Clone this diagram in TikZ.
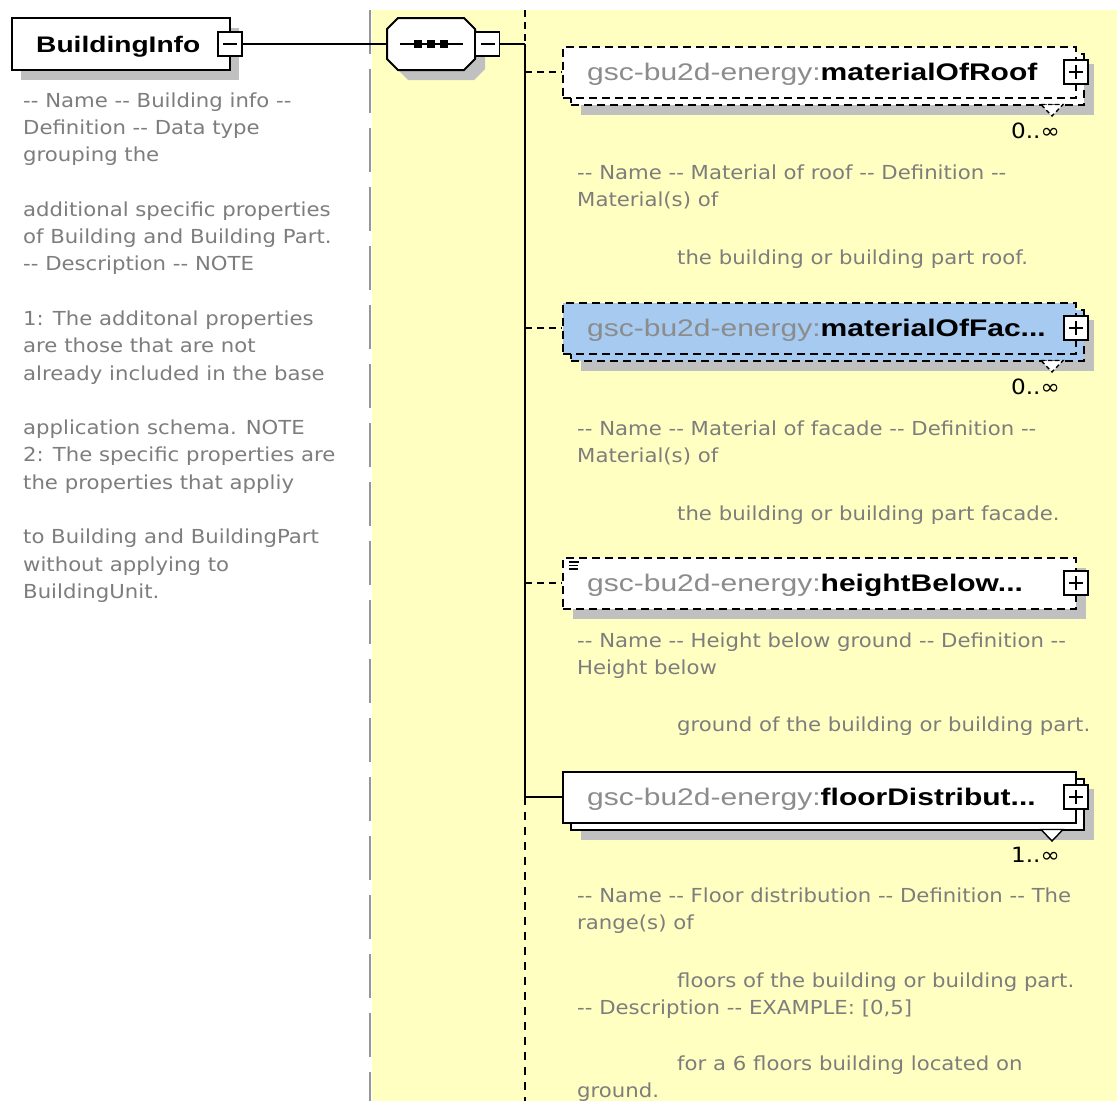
\documentclass[tikz,border=0pt]{standalone}
\usepackage{fontspec}
\setmainfont{DejaVu Sans}
\newfontfamily\descfont[FakeStretch=1.1]{DejaVu Sans}
\newfontfamily\lblfont[FakeStretch=1.25]{Liberation Sans}
\definecolor{bgyellow}{RGB}{255,255,194}
\definecolor{selblue}{RGB}{166,202,240}
\definecolor{shadowgray}{RGB}{192,192,192}
\definecolor{descgray}{RGB}{125,125,125}
\definecolor{nsgray}{RGB}{140,140,140}
\definecolor{guidegray}{RGB}{150,150,150}
\begin{document}
\begin{tikzpicture}[x=1pt,y=-1pt,
  conn/.style={line width=2pt, black},
  dconn/.style={conn, dash pattern=on 7pt off 5pt},
  vdconn/.style={conn, dash pattern=on 8pt off 7pt},
  elbox/.style={draw, line width=2pt, fill=white, minimum width=513pt, minimum height=51pt, inner sep=0pt},
  delbox/.style={elbox, dash pattern=on 8pt off 5pt},
  shadowbox/.style={fill=shadowgray, draw=none, minimum width=513pt, minimum height=51pt, inner sep=0pt},
  btn/.style={draw, line width=1.5pt, fill=white, minimum size=24pt, inner sep=0pt},
  desc/.style={font=\descfont\fontsize{19.3pt}{19.3pt}\selectfont, text=descgray, anchor=west, inner sep=0pt, text height=14pt, text depth=0pt},
  lbl/.style={font=\lblfont\fontsize{24pt}{24pt}\selectfont, anchor=west, inner sep=0pt, text height=17pt, text depth=0pt},
  mult/.style={font=\descfont\fontsize{21pt}{21pt}\selectfont, text=black, anchor=east, inner sep=0pt, text height=15pt, text depth=0pt},
  multtri/.style={fill=white, line width=1.4pt}
]
\useasboundingbox (0,0) rectangle (1117,1101);
\fill[white] (0,0) rectangle (1117,1101);
\fill[bgyellow] (372,10) rectangle (1117,1101);
\draw[guidegray, line width=2pt, dash pattern=on 44pt off 15pt] (370,10) -- (370,1101);

% ---------- BuildingInfo ----------
\fill[shadowgray] (21,28) rectangle (239,80);
\node[draw, line width=2pt, fill=white, minimum width=218pt, minimum height=52pt, inner sep=0pt] (bi) at (121,44) {};
\node[lbl, font=\lblfont\bfseries\fontsize{22.5pt}{22.5pt}\selectfont] (bilabel) at (36,44) {BuildingInfo};
\node[btn] (bibtn) at (230,44) {};
\draw[line width=1.5pt] ([xshift=-7pt]bibtn.center) -- ([xshift=7pt]bibtn.center);

\foreach \t [count=\k from 0] in {%
  {-- Name -- Building info --},
  {Definition -- Data type},
  {grouping the},
  {},
  {additional specific properties},
  {of Building and Building Part.},
  {-- Description -- NOTE},
  {},
  {1: The additonal properties},
  {are those that are not},
  {already included in the base},
  {},
  {application schema. NOTE},
  {2: The specific properties are},
  {the properties that appliy},
  {},
  {to Building and BuildingPart},
  {without applying to},
  {BuildingUnit.}}
  {\node[desc] (bid\k) at (23,{100+27.3*\k}) {\t};}

% ---------- sequence compositor ----------
\fill[shadowgray] (408,28) -- (474,28) -- (485,39) -- (485,69) -- (474,80) -- (408,80) -- (397,69) -- (397,39) -- cycle;
\filldraw[fill=white, line width=2pt] (398,18) -- (464,18) -- (475,29) -- (475,59) -- (464,70) -- (398,70) -- (387,59) -- (387,29) -- cycle;
\node[minimum width=88pt, minimum height=52pt, inner sep=0pt] (seq) at (431,44) {};
\draw[line width=2pt] (400,44) -- (463,44);
\foreach \sx in {418,431,444} \fill (\sx-4,40) rectangle (\sx+4,48);
\node[btn] (seqbtn) at (487.5,44) {};
\draw[line width=1.5pt] ([xshift=-7pt]seqbtn.center) -- ([xshift=7pt]seqbtn.center);

% ---------- spine coordinates ----------
\coordinate (vtop) at (525,10);
\coordinate (vseq) at (525,44);
\coordinate (v1) at (525,72);
\coordinate (v2) at (525,328);
\coordinate (v3) at (525,583);
\coordinate (v4) at (525,797);
\coordinate (vbot) at (525,1101);

% ---------- materialOfRoof ----------
\node[shadowbox] (roofsh) at (837.5,89) {};
\node[delbox] (roofback) at (827.5,79) {};
\node[delbox] (roof) at (819.5,72) {};
\node[lbl] (rooflbl) at (587,72) {\textcolor{nsgray}{gsc-bu2d-energy:}\textbf{materialOfRoof}};
\node[btn] (roofbtn) at (1076,72) {};
\draw[line width=1.5pt] ([xshift=-7pt]roofbtn.center) -- ([xshift=7pt]roofbtn.center) ([yshift=-7pt]roofbtn.center) -- ([yshift=7pt]roofbtn.center);
\filldraw[multtri, dash pattern=on 4pt off 3pt] (1041,104.5) -- (1063,104.5) -- (1052,116) -- cycle;
\node[mult] (roofmult) at (1060,131) {0..∞};
\node[desc] (roofd1) at (577,172) {-- Name -- Material of roof -- Definition --};
\node[desc] (roofd2) at (577,199) {Material(s) of};
\node[desc] (roofd3) at (677,257) {the building or building part roof.};

% ---------- materialOfFacade ----------
\node[shadowbox] (facsh) at (837.5,345) {};
\node[delbox, fill=selblue] (facback) at (827.5,335) {};
\node[delbox, fill=selblue] (fac) at (819.5,328) {};
\node[lbl] (faclbl) at (587,328) {\textcolor{nsgray}{gsc-bu2d-energy:}\textbf{materialOfFac...}};
\node[btn] (facbtn) at (1076,328) {};
\draw[line width=1.5pt] ([xshift=-7pt]facbtn.center) -- ([xshift=7pt]facbtn.center) ([yshift=-7pt]facbtn.center) -- ([yshift=7pt]facbtn.center);
\filldraw[multtri, dash pattern=on 4pt off 3pt] (1041,360.5) -- (1063,360.5) -- (1052,372) -- cycle;
\node[mult] (facmult) at (1060,387) {0..∞};
\node[desc] (facd1) at (577,428) {-- Name -- Material of facade -- Definition --};
\node[desc] (facd2) at (577,455) {Material(s) of};
\node[desc] (facd3) at (677,513) {the building or building part facade.};

% ---------- heightBelowGround ----------
\node[shadowbox] (hgtsh) at (829.5,593) {};
\node[delbox] (hgt) at (819.5,583) {};
\draw[line width=1.2pt] (569,562) -- (579,562) (569,565.5) -- (578,565.5) (569,569) -- (578,569);
\node[lbl] (hgtlbl) at (587,583) {\textcolor{nsgray}{gsc-bu2d-energy:}\textbf{heightBelow...}};
\node[btn] (hgtbtn) at (1076,583) {};
\draw[line width=1.5pt] ([xshift=-7pt]hgtbtn.center) -- ([xshift=7pt]hgtbtn.center) ([yshift=-7pt]hgtbtn.center) -- ([yshift=7pt]hgtbtn.center);
\node[desc] (hgtd1) at (577,640) {-- Name -- Height below ground -- Definition --};
\node[desc] (hgtd2) at (577,667) {Height below};
\node[desc] (hgtd3) at (677,724) {ground of the building or building part.};

% ---------- floorDistribution ----------
\node[shadowbox] (flrsh) at (837.5,814) {};
\node[elbox] (flrback) at (827.5,804) {};
\node[elbox] (flr) at (819.5,797) {};
\node[lbl] (flrlbl) at (587,797) {\textcolor{nsgray}{gsc-bu2d-energy:}\textbf{floorDistribut...}};
\node[btn] (flrbtn) at (1076,797) {};
\draw[line width=1.5pt] ([xshift=-7pt]flrbtn.center) -- ([xshift=7pt]flrbtn.center) ([yshift=-7pt]flrbtn.center) -- ([yshift=7pt]flrbtn.center);
\filldraw[multtri] (1041,829.5) -- (1063,829.5) -- (1052,841) -- cycle;
\node[mult] (flrmult) at (1060,855) {1..∞};
\node[desc] (flrd1) at (577,895) {-- Name -- Floor distribution -- Definition -- The};
\node[desc] (flrd2) at (577,922) {range(s) of};
\node[desc] (flrd3) at (677,980) {floors of the building or building part.};
\node[desc] (flrd4) at (577,1007) {-- Description -- EXAMPLE: [0,5]};
\node[desc] (flrd5) at (677,1063) {for a 6 floors building located on};
\node[desc] (flrd6) at (577,1090) {ground.};

% ---------- connectors ----------
\draw[conn] (bibtn.east) -- (seq.west);
\draw[conn] (seqbtn.east) -- (vseq);
\draw[dconn] (vtop) -- (vseq);
\draw[conn] (vseq) -- (v4);
\draw[vdconn] (v4) -- (vbot);
\draw[dconn] (v1) -- (roof.west);
\draw[dconn] (v2) -- (fac.west);
\draw[dconn] (v3) -- (hgt.west);
\draw[conn] (v4) -- (flr.west);
\end{tikzpicture}
\end{document}
